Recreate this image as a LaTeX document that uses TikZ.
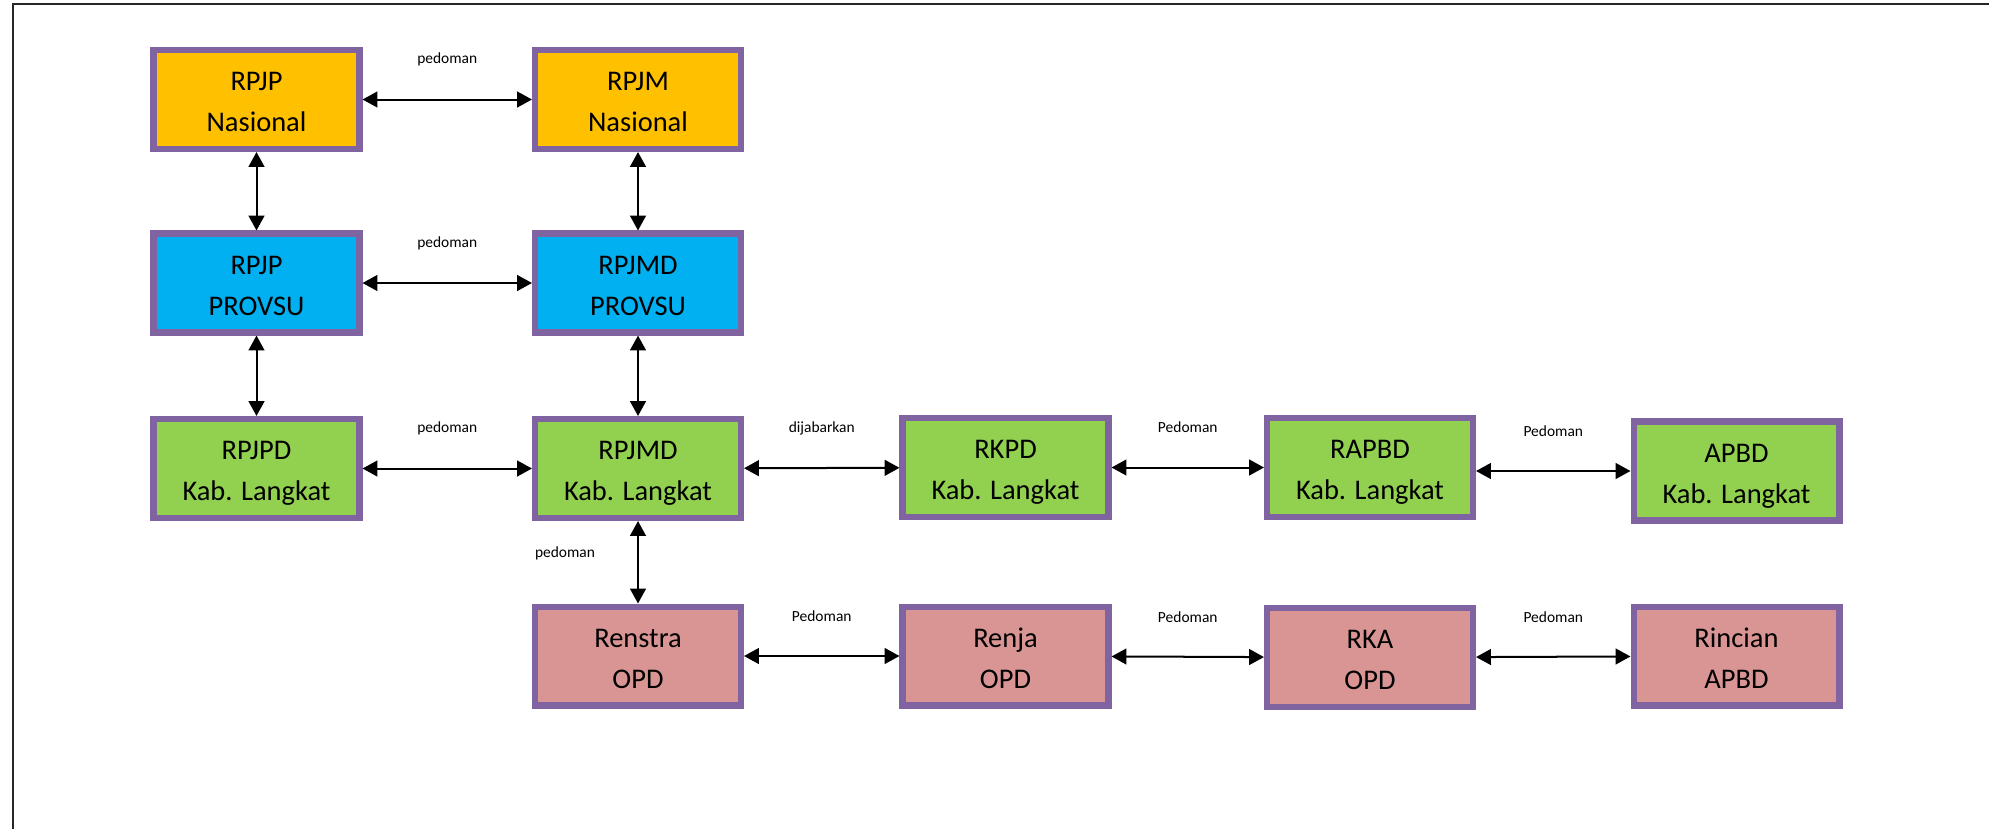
\documentclass[tikz,border=0pt]{standalone}
\usepackage{fontspec}
\setmainfont{Carlito}
\usetikzlibrary{arrows.meta}

\definecolor{borde}{HTML}{8064A2}
\definecolor{naranja}{HTML}{FFC000}
\definecolor{celeste}{HTML}{00B0F0}
\definecolor{verde}{HTML}{92D050}
\definecolor{rosa}{HTML}{D99594}

\tikzset{
  caja/.style={rectangle, draw=borde, line width=3.6pt, minimum width=4.114cm,
    minimum height=1.974cm, align=center, text=black,
    text height=36.6pt, text depth=0pt,
    font=\fontsize{16.2}{23.3}\selectfont},
  etiq/.style={font=\fontsize{8.8}{10}\selectfont, text=black},
  lbl/.style={etiq, yshift=0.8cm}
}

\begin{document}
\begin{tikzpicture}[<->, >={Triangle[length=8.5pt,width=9pt]}, line width=1.14pt]
\useasboundingbox (0,0) rectangle (39.78,-16.56);
% Marco
\draw[-, black!85, line width=1.1pt] (0.254,-17) -- (0.254,-0.086) -- (40.2,-0.086);
% Nodos
\node [caja, fill=naranja] (rpjpN)   at (5.13,-1.99)  {RPJP\\Nasional};
\node [caja, fill=naranja] (rpjmN)   at (12.76,-1.99) {RPJM\\Nasional};
\node [caja, fill=celeste] (rpjpP)   at (5.13,-5.66)  {RPJP\\PROVSU};
\node [caja, fill=celeste] (rpjmdP)  at (12.76,-5.66) {RPJMD\\PROVSU};
\node [caja, fill=verde]   (rpjpdK)  at (5.13,-9.37)  {RPJPD\\Kab. Langkat};
\node [caja, fill=verde]   (rpjmdK)  at (12.76,-9.37) {RPJMD\\Kab. Langkat};
\node [caja, fill=verde]   (rkpd)    at (20.11,-9.35) {RKPD\\Kab. Langkat};
\node [caja, fill=verde]   (rapbd)   at (27.40,-9.35) {RAPBD\\Kab. Langkat};
\node [caja, fill=verde]   (apbd)    at (34.73,-9.42) {APBD\\Kab. Langkat};
\node [caja, fill=rosa]    (renstra) at (12.76,-13.12) {Renstra\\OPD};
\node [caja, fill=rosa]    (renja)   at (20.11,-13.12) {Renja\\OPD};
\node [caja, fill=rosa]    (rka)     at (27.40,-13.15) {RKA\\OPD};
\node [caja, fill=rosa]    (rincian) at (34.73,-13.12) {Rincian\\APBD};
% Flechas
% ---
% nacional / provinsi
% ---
\path (rpjpN) edge node [lbl] {pedoman} (rpjmN);
\path (rpjpN) edge (rpjpP);
\path (rpjmN) edge (rpjmdP);

\path (rpjpP) edge node [lbl] {pedoman} (rpjmdP);
\path (rpjpP) edge (rpjpdK);
\path (rpjmdP) edge (rpjmdK);
% ---
% kabupaten
% ---
\path (rpjpdK) edge node [lbl] {pedoman} (rpjmdK);
\path (rpjmdK) edge node [lbl] {dijabarkan} (rkpd);
\path (rkpd) edge node [lbl] {Pedoman} (rapbd);
\path (rapbd.east |- apbd) edge node [lbl] {Pedoman} (apbd);
% ---
% OPD
% ---
\path (rpjmdK) edge node [etiq, pos=0.39, xshift=-1.46cm] {pedoman} (renstra);
\path (renstra) edge node [lbl] {Pedoman} (renja);
\path (renja) edge node [lbl] {Pedoman} (rka);
\path (rka) edge node [lbl] {Pedoman} (rincian);

\end{tikzpicture}
\end{document}
